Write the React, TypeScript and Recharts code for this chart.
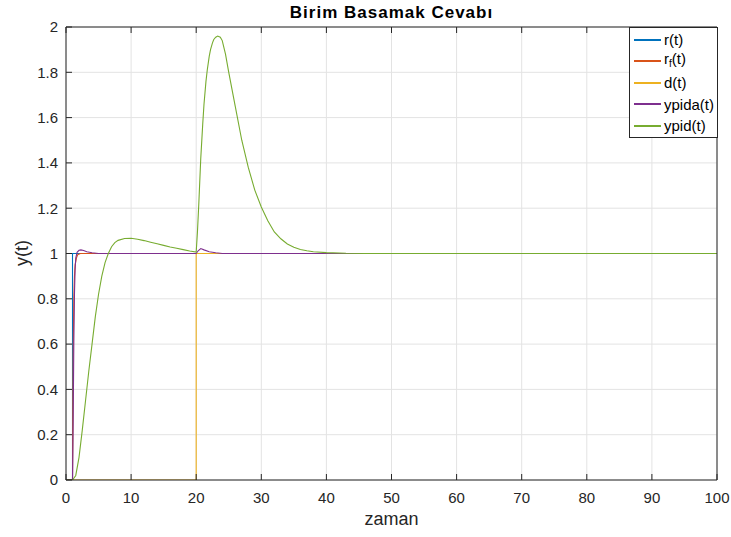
import React from 'react';
import { LineChart, Line, XAxis, YAxis, CartesianGrid } from 'recharts';

const xTicks = [0, 10, 20, 30, 40, 50, 60, 70, 80, 90, 100];
const yTicks = [0, 0.2, 0.4, 0.6, 0.8, 1, 1.2, 1.4, 1.6, 1.8, 2];

// r(t): unit step at t = 1
const rTime = [0, 1, 1, 100];
const rValue = [0, 0, 1, 1];

// rf(t): filtered reference
const rfTime = [0, 1, 1.1, 1.2, 1.3, 1.4, 1.6, 1.8, 2.2, 100];
const rfValue = [0, 0, 0.55, 0.8, 0.9, 0.95, 0.98, 0.995, 1, 1];

// d(t): disturbance step at t = 20
const dTime = [0, 20, 20, 100];
const dValue = [0, 0, 1, 1];

// ypida(t)
const ypidaTime = [0, 1, 1.1, 1.2, 1.3, 1.4, 1.5, 1.7, 2, 2.3, 2.7, 3.2, 4, 5, 20, 20.3, 20.7, 21.2, 22, 23, 24, 100];
const ypidaValue = [0, 0, 0.25, 0.6, 0.82, 0.93, 0.98, 1.005, 1.014, 1.016, 1.013, 1.008, 1.003, 1, 1, 1.012, 1.022, 1.016, 1.008, 1.003, 1, 1];

// ypid(t)
const ypidTime = [
  0, 1, 1.5, 2, 2.5, 3, 3.5, 4, 4.5, 5, 5.5, 6, 6.5, 7, 7.5, 8, 9, 10, 11, 12, 13, 14, 15, 16, 17, 18, 19, 20,
  20.2, 20.4, 20.7, 21, 21.2, 21.5, 21.7, 22, 22.2, 22.5, 22.7, 23, 23.3, 23.7, 24, 24.5, 25, 26, 27, 28, 29, 30,
  31, 32, 33, 34, 35, 36, 37, 38, 40, 43, 46, 100,
];
const ypidValue = [
  0, 0, 0.02, 0.1, 0.22, 0.35, 0.48, 0.6, 0.72, 0.82, 0.9, 0.96, 1.0, 1.03, 1.048, 1.058, 1.066, 1.067, 1.063, 1.057, 1.05, 1.043, 1.036, 1.029, 1.023, 1.017, 1.011, 1.006,
  1.1, 1.22, 1.42, 1.57, 1.66, 1.76, 1.81, 1.87, 1.9, 1.93, 1.945, 1.955, 1.96, 1.955, 1.94, 1.88, 1.8, 1.65, 1.5, 1.38, 1.28, 1.205,
  1.145, 1.095, 1.065, 1.042, 1.028, 1.018, 1.012, 1.008, 1.004, 1.001, 1, 1,
];

const toPoints = (ts: number[], ys: number[]) => ts.map((t, i) => ({ t, y: ys[i] }));

const series = [
  { name: 'r', data: toPoints(rTime, rValue), color: '#0072BD' },
  { name: 'rf', data: toPoints(rfTime, rfValue), color: '#D95319' },
  { name: 'd', data: toPoints(dTime, dValue), color: '#EDB120' },
  { name: 'ypida', data: toPoints(ypidaTime, ypidaValue), color: '#7E2F8E' },
  { name: 'ypid', data: toPoints(ypidTime, ypidValue), color: '#77AC30' },
];

const FONT = "Arial, 'Liberation Sans', Helvetica, sans-serif";
const AXIS = '#262626';

const BottomTick = (props: any) => {
  const { x, y, payload } = props;
  return (
    <g>
      <line x1={x} x2={x} y1={y - 12} y2={y - 18} stroke={AXIS} />
      <text x={x} y={y} dy="0.71em" textAnchor="middle" fill={AXIS} fontSize={15} fontFamily={FONT}>
        {payload.value}
      </text>
    </g>
  );
};

const LeftTick = (props: any) => {
  const { x, y, payload } = props;
  return (
    <g>
      <line x1={x + 8} x2={x + 14} y1={y} y2={y} stroke={AXIS} />
      <text x={x} y={y} dy="0.355em" textAnchor="end" fill={AXIS} fontSize={15} fontFamily={FONT}>
        {payload.value}
      </text>
    </g>
  );
};

const TopTick = (props: any) => {
  const { x, y } = props;
  return <line x1={x} x2={x} y1={y} y2={y + 6} stroke={AXIS} />;
};

const RightTick = (props: any) => {
  const { x, y } = props;
  return <line x1={x} x2={x - 6} y1={y} y2={y} stroke={AXIS} />;
};

const legendRows = [
  { label: <>r(t)</>, color: '#0072BD' },
  { label: <>r<sub style={{ fontSize: 10, verticalAlign: -3 }}>f</sub>(t)</>, color: '#D95319' },
  { label: <>d(t)</>, color: '#EDB120' },
  { label: <>ypida(t)</>, color: '#7E2F8E' },
  { label: <>ypid(t)</>, color: '#77AC30' },
];

export default function App() {
  return (
    <div style={{ position: 'relative', width: 731, height: 537, background: '#fff', fontFamily: FONT }}>
      <style>{'body{margin:0}'}</style>
      <LineChart width={731} height={537} data={series[4].data} margin={{ top: 26, right: 13, bottom: 27, left: 16 }}>
        <CartesianGrid stroke="#e3e3e3" strokeWidth={1} />
        <XAxis
          dataKey="t"
          type="number"
          domain={[0, 100]}
          ticks={xTicks}
          height={30}
          stroke={AXIS}
          tickLine={false}
          tickSize={0}
          tickMargin={12}
          tick={<BottomTick />}
          allowDataOverflow
        />
        <XAxis
          xAxisId="top"
          orientation="top"
          dataKey="t"
          type="number"
          domain={[0, 100]}
          ticks={xTicks}
          height={1}
          stroke={AXIS}
          tickLine={false}
          tickSize={0}
          tickMargin={0}
          tick={<TopTick />}
        />
        <YAxis
          type="number"
          domain={[0, 2]}
          ticks={yTicks}
          width={50}
          stroke={AXIS}
          tickLine={false}
          tickSize={0}
          tickMargin={8}
          tick={<LeftTick />}
          allowDataOverflow
        />
        <YAxis
          yAxisId="right"
          orientation="right"
          type="number"
          domain={[0, 2]}
          ticks={yTicks}
          width={1}
          stroke={AXIS}
          tickLine={false}
          tickSize={0}
          tickMargin={0}
          tick={<RightTick />}
        />
        {series.map((s) => (
          <Line
            key={s.name}
            data={s.data}
            dataKey="y"
            type="linear"
            stroke={s.color}
            strokeWidth={1.1}
            dot={false}
            activeDot={false}
            isAnimationActive={false}
          />
        ))}
      </LineChart>

      <div style={{ position: 'absolute', left: 0, width: 783, top: 3, textAlign: 'center', fontWeight: 'bold', fontSize: 17, letterSpacing: 1, color: '#000' }}>
        Birim Basamak Cevabı
      </div>
      <div style={{ position: 'absolute', left: 0, width: 783, top: 509, textAlign: 'center', fontSize: 18, color: AXIS }}>
        zaman
      </div>
      <div
        style={{
          position: 'absolute',
          left: 22,
          top: 253,
          transform: 'translate(-50%, -50%) rotate(-90deg)',
          fontSize: 18,
          color: AXIS,
          whiteSpace: 'nowrap',
        }}
      >
        y(t)
      </div>

      <div
        style={{
          position: 'absolute',
          left: 629,
          top: 27,
          width: 87,
          height: 108,
          border: `1px solid ${AXIS}`,
          background: '#fff',
          paddingTop: 1,
          boxSizing: 'content-box',
        }}
      >
        {legendRows.map((row, i) => (
          <div key={i} style={{ display: 'flex', alignItems: 'center', height: 21.5, fontSize: 15, color: '#000' }}>
            <div style={{ flex: '0 0 27px', width: 27, height: 2, background: row.color, marginLeft: 4, marginRight: 3 }} />
            <span style={{ whiteSpace: 'nowrap', lineHeight: '15px' }}>{row.label}</span>
          </div>
        ))}
      </div>
    </div>
  );
}
